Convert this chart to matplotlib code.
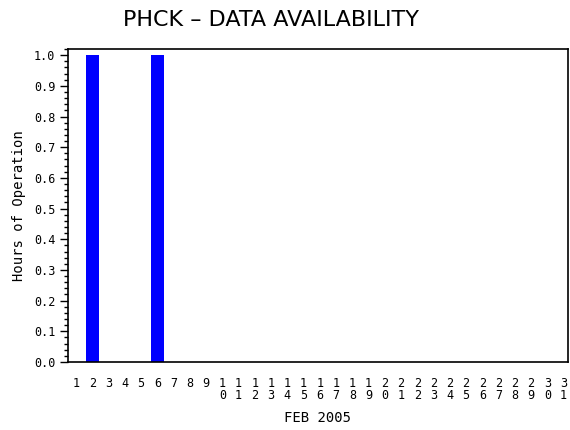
import matplotlib
matplotlib.use("Agg")
import matplotlib.pyplot as plt
from matplotlib.ticker import MultipleLocator

days = list(range(1, 32))
hours = [0, 1, 0, 0, 0, 1] + [0] * 25
day_labels = ["\n".join(str(d)) for d in days]
y_ticks = [i / 10 for i in range(11)]
y_labels = ["%.1f" % v for v in y_ticks]

plt.rcParams["font.family"] = "DejaVu Sans Mono"

fig = plt.figure(figsize=(5.7, 4.3), dpi=100)
ax = fig.add_axes([68 / 570, 68 / 430, 500 / 570, 313 / 430])

ax.bar(days, hours, width=0.8, color="#0000ff")

ax.set_xlim(0.5, 31.27)
ax.set_ylim(0, 1.02)
ax.set_xticks(days)
ax.set_xticklabels(day_labels, fontsize=8.5, linespacing=0.85, va="top")
ax.tick_params(axis="x", length=0, pad=11)
ax.set_yticks(y_ticks)
ax.set_yticklabels(y_labels, fontsize=8.5)
ax.yaxis.set_minor_locator(MultipleLocator(0.02))
ax.tick_params(axis="y", which="major", length=6, width=1, pad=3)
ax.tick_params(axis="y", which="minor", length=3, width=1)

for s in ax.spines.values():
    s.set_linewidth(1.2)

ax.set_xlabel("FEB 2005", fontsize=10, labelpad=7)
ax.set_ylabel("Hours of Operation", fontsize=10, labelpad=6)
fig.text(0.475, 0.953, "PHCK \u2013 DATA AVAILABILITY", fontsize=16,
         family="DejaVu Sans", ha="center", va="center")

fig.savefig("out.png", dpi=100)
